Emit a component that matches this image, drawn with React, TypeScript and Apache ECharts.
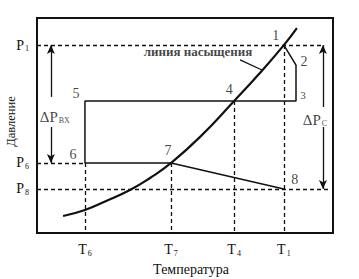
import React, { useEffect, useRef } from "react";
import * as echarts from "echarts";

// Temperature marks (schematic units, 0..100)
const tempSubs = ["6", "7", "4", "1"];
const tempValues = [16.2, 45.3, 66.6, 83.4];
// Pressure marks (schematic units, 0..100)
const pressSubs = ["8", "6", "1"];
const pressValues = [20.5, 32.6, 87.4];

// Saturation line
const satT = [8.8, 16.2, 23.0, 31.4, 38.2, 45.3, 55.1, 66.6, 75.3, 83.4, 87.8];
const satP = [7.9, 10.7, 14.7, 20.0, 25.6, 32.6, 44.7, 61.4, 74.4, 87.4, 95.3];

// Cycle points 1..8
const cycleNames = ["1", "2", "3", "4", "5", "6", "7", "8"];
const cycleT = [83.4, 87.5, 87.5, 66.6, 16.2, 16.2, 45.3, 83.4];
const cycleP = [87.4, 78.1, 61.4, 61.4, 61.4, 32.6, 32.6, 20.5];
const cycleOffsets: [number, number][] = [
  [-8, -10], [8, -4], [7, -6], [-5, -11], [-9, -7], [-12, -8], [-3, -12], [11, -9],
];

// Arrow lines
const arrowBxT = 4.7;
const arrowCT = 96.6;

const FONT = "Liberation Serif";

export default function App() {
  const ref = useRef<HTMLDivElement>(null);
  useEffect(() => {
    if (!ref.current) return;
    const chart = echarts.init(ref.current, null, { renderer: "svg" });
    const [T6, T7, T4, T1] = tempValues;
    const [P8, P6, P1] = pressValues;
    const P3 = cycleP[2];
    const dashed = { type: [4, 3], color: "#111", width: 1.3 };
    const seg = (a: number[], b: number[]) => [{ coord: a }, { coord: b }];
    const rich = {
      m: { fontFamily: FONT, fontSize: 14, color: "#111" },
      d: { fontFamily: FONT, fontSize: 15, color: "#111" },
      s: { fontFamily: FONT, fontSize: 8, color: "#111", padding: [7, 0, 0, 1] },
    };
    const option: any = {
      animation: false,
      backgroundColor: "#fff",
      grid: {
        left: 37, right: 26, top: 18, bottom: 46, show: true,
        borderColor: "#111", borderWidth: 2,
        containLabel: false, outerBoundsMode: "none",
      },
      xAxis: {
        type: "value", min: 0, max: 100,
        axisLine: { show: false }, axisTick: { show: false }, splitLine: { show: false },
        axisLabel: {
          customValues: tempValues, margin: 9,
          formatter: (v: number) => {
            const i = tempValues.findIndex((t) => Math.abs(t - v) < 1e-6);
            return i < 0 ? "" : `{m|T}{s|${tempSubs[i]}}`;
          },
          rich,
        },
        name: "Температура", nameLocation: "middle", nameGap: 29, nameMoveOverlap: false,
        nameTextStyle: { fontFamily: FONT, fontSize: 14, color: "#111", padding: [0, 0, 0, 12] },
      },
      yAxis: {
        type: "value", min: 0, max: 100,
        axisLine: { show: false }, axisTick: { show: false }, splitLine: { show: false },
        axisLabel: {
          customValues: pressValues, margin: 8,
          formatter: (v: number) => {
            const i = pressValues.findIndex((t) => Math.abs(t - v) < 1e-6);
            return i < 0 ? "" : `{m|P}{s|${pressSubs[i]}}`;
          },
          rich,
        },
        name: "Давление", nameLocation: "middle", nameGap: 20, nameRotate: 90, nameMoveOverlap: false,
        nameTextStyle: { fontFamily: FONT, fontSize: 12.5, color: "#111", padding: [0, 0, 0, 8] },
      },
      series: [
        {
          type: "line", smooth: 0.5, symbol: "none", silent: true,
          lineStyle: { color: "#111", width: 2.2 },
          data: satT.map((t, i) => [t, satP[i]]),
          markLine: {
            silent: true, symbol: "none", label: { show: false },
            lineStyle: dashed,
            data: [
              seg([0, P1], [arrowCT, P1]),
              seg([0, P6], [T6, P6]),
              seg([0, P8], [99, P8]),
              seg([T6, P6], [T6, 0]),
              seg([T7, P6], [T7, 0]),
              seg([T4, P3], [T4, 0]),
              seg([T1, P1], [T1, 0]),
            ],
          },
        },
        {
          type: "line", symbol: "none", silent: true,
          lineStyle: { color: "#111", width: 1.5 },
          data: cycleT.map((t, i) => [t, cycleP[i]]),
          markLine: {
            silent: true, label: { show: false },
            symbol: ["none", "arrow"], symbolSize: [6, 9],
            lineStyle: { type: "solid", color: "#111", width: 1.3 },
            data: [
              seg([arrowBxT, 63.3], [arrowBxT, P1]),
              seg([arrowBxT, 49.3], [arrowBxT, P6]),
              seg([arrowCT, 58.6], [arrowCT, P1]),
              seg([arrowCT, 49.3], [arrowCT, P8]),
              [{ coord: [68.6, 80.5], symbol: "none" }, { coord: [76, 75.8], symbol: "none" }],
            ],
          },
        },
        {
          type: "scatter", symbol: "circle", symbolSize: 0, silent: true,
          itemStyle: { color: "transparent" },
          data: cycleNames.map((n, i) => ({
            value: [cycleT[i], cycleP[i]],
            label: {
              show: true, formatter: n, position: "inside", offset: cycleOffsets[i],
              fontFamily: FONT, fontSize: n === "3" ? 11 : 14, color: "#111",
            },
          })),
        },
        {
          type: "scatter", symbol: "circle", symbolSize: 0, silent: true,
          itemStyle: { color: "transparent" },
          data: [
            { value: [6.0, 54], label: { formatter: "{d|ΔP}{s|ВХ}" } },
            { value: [93.9, 52.6], label: { formatter: "{d|ΔP}{s|С}" } },
            {
              value: [54.4, 84.2],
              label: { formatter: "линия насыщения", fontFamily: FONT, fontSize: 13, fontWeight: "bold", color: "#111" },
            },
          ],
          label: { show: true, position: "inside", align: "center", verticalAlign: "middle", rich },
        },
      ],
    };
    chart.setOption(option);
    return () => chart.dispose();
  }, []);
  return (
    <div
      ref={ref}
      style={{ position: "fixed", left: 0, top: 0, width: 359, height: 279, background: "#fff" }}
    />
  );
}
